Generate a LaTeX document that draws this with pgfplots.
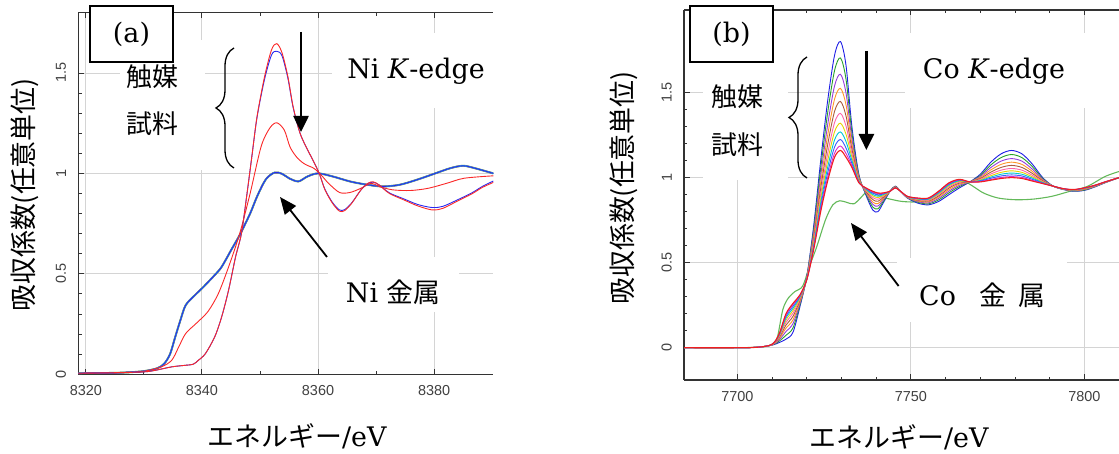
\documentclass[border=0pt]{standalone}
\usepackage{fontspec}
\usepackage{pgfplots}
\pgfplotsset{compat=1.18}
\usepackage{pgfplotstable}
\usetikzlibrary{arrows.meta,decorations.pathreplacing}
\newfontfamily\jp{Noto Sans CJK JP}
\newfontfamily\ser{DejaVu Serif}
\newfontfamily\tickf{Liberation Sans}

\definecolor{cA}{RGB}{30,30,230}
\definecolor{cB}{RGB}{40,160,40}
\definecolor{cC}{RGB}{150,60,220}
\definecolor{cD}{RGB}{255,150,40}
\definecolor{cE}{RGB}{170,90,60}
\definecolor{cF}{RGB}{255,100,170}
\definecolor{cG}{RGB}{230,210,0}
\definecolor{cH}{RGB}{0,200,210}
\definecolor{cI}{RGB}{60,90,255}
\definecolor{cJ}{RGB}{220,40,200}
\definecolor{cK}{RGB}{240,30,30}
\definecolor{cometal}{RGB}{100,185,90}
\definecolor{nired}{RGB}{250,40,40}
\definecolor{niblue}{RGB}{40,40,240}

% Ni K-edge: Ni metal
\pgfplotstableread{
x y
8318.7 0.005
8322 0.006
8326 0.008
8329.8 0.015
8332.3 0.030
8333.5 0.053
8334.5 0.100
8335.4 0.186
8336.3 0.270
8337.2 0.344
8338.8 0.394
8340.3 0.436
8342.2 0.494
8343.4 0.535
8345.2 0.627
8346.5 0.693
8348.3 0.800
8349.5 0.885
8351 0.970
8352.5 1.004
8353.8 0.998
8355 0.976
8356.6 0.960
8358.2 0.985
8360 1.000
8362.5 0.985
8365.5 0.960
8368 0.946
8371 0.935
8374 0.943
8377 0.968
8380 0.998
8382.8 1.026
8385 1.038
8387 1.026
8390.2 1.000
}\nimetal

% Ni catalyst, highest white line (red)
\pgfplotstableread{
x y
8318.7 0.005
8325 0.008
8330 0.012
8332 0.020
8334.8 0.037
8337.2 0.045
8338.5 0.050
8339.4 0.070
8340.6 0.103
8342.2 0.186
8343.4 0.286
8344.6 0.420
8345.8 0.585
8346.8 0.700
8347.7 0.885
8348.6 1.084
8349.5 1.284
8350.8 1.483
8352 1.616
8352.9 1.646
8353.8 1.600
8354.8 1.483
8355.7 1.334
8356.9 1.200
8358.2 1.118
8359.4 1.050
8360.3 0.993
8361.2 0.918
8362.5 0.851
8363.7 0.812
8364.6 0.815
8365.8 0.851
8367.4 0.918
8368.6 0.951
8369.5 0.958
8370.5 0.943
8372.3 0.900
8374.8 0.868
8377.2 0.838
8379.7 0.818
8381.5 0.826
8384 0.862
8386.5 0.898
8388.3 0.930
8390.2 0.955
}\nicatA

% Ni catalyst (blue)
\pgfplotstableread{
x y
8318.7 0.005
8325 0.008
8330 0.012
8332 0.020
8334.8 0.037
8337.2 0.045
8338.5 0.050
8339.4 0.070
8340.6 0.103
8342.2 0.186
8343.4 0.286
8344.6 0.420
8345.8 0.585
8346.8 0.700
8347.7 0.885
8348.6 1.084
8349.5 1.280
8350.8 1.470
8352 1.590
8352.9 1.608
8353.8 1.585
8354.8 1.475
8355.7 1.330
8356.9 1.200
8358.2 1.118
8359.4 1.050
8360.3 0.993
8361.2 0.920
8362.5 0.855
8363.7 0.818
8364.6 0.820
8365.8 0.853
8367.4 0.918
8368.6 0.950
8369.5 0.956
8370.5 0.943
8372.3 0.903
8374.8 0.873
8377.2 0.845
8379.7 0.830
8381.5 0.836
8384 0.868
8386.5 0.903
8388.3 0.935
8390.2 0.962
}\nicatB

% Ni catalyst, intermediate (red)
\pgfplotstableread{
x y
8318.7 0.005
8326 0.008
8330 0.015
8333 0.037
8334.8 0.070
8336 0.136
8337.2 0.203
8339 0.253
8341 0.311
8342.8 0.400
8344.6 0.535
8346.5 0.700
8348.3 0.900
8350.2 1.134
8351.7 1.226
8352.9 1.252
8354.2 1.215
8355.2 1.130
8356.5 1.075
8357.8 1.045
8359.3 1.025
8360.6 0.990
8361.8 0.951
8363.7 0.905
8365.5 0.905
8367.4 0.926
8369.2 0.951
8370.5 0.935
8372.9 0.918
8376 0.915
8379 0.926
8382.2 0.951
8385.2 0.976
8390.2 0.988
}\nicatC

% Co K-edge: catalyst series (a = largest white line ... k = smallest)
\pgfplotstableread{
x a b c d e f g h i j k
7684 0 0 0 0 0 0 0 0 0 0 0
7700 0 0 0 0 0 0 0 0 0 0 0
7706 0.003 0.003 0.003 0.003 0.003 0.003 0.003 0.003 0.003 0.003 0.003
7710 0.015 0.016 0.017 0.017 0.018 0.018 0.019 0.019 0.020 0.020 0.020
7712 0.030 0.038 0.045 0.052 0.058 0.063 0.068 0.072 0.075 0.078 0.080
7714 0.050 0.073 0.095 0.115 0.133 0.149 0.163 0.175 0.185 0.194 0.200
7716 0.090 0.116 0.141 0.163 0.184 0.202 0.218 0.231 0.243 0.253 0.260
7718 0.240 0.251 0.261 0.270 0.279 0.286 0.293 0.298 0.303 0.307 0.310
7720 0.420 0.417 0.414 0.411 0.409 0.407 0.405 0.403 0.402 0.401 0.400
7722 0.720 0.699 0.678 0.660 0.643 0.628 0.615 0.604 0.594 0.586 0.580
7724 1.100 1.055 1.010 0.971 0.935 0.902 0.875 0.851 0.830 0.812 0.800
7726 1.450 1.380 1.309 1.248 1.192 1.140 1.098 1.060 1.027 0.999 0.980
7728 1.720 1.630 1.540 1.462 1.390 1.324 1.270 1.222 1.180 1.144 1.120
7729.7 1.800 1.704 1.608 1.525 1.448 1.378 1.320 1.269 1.224 1.186 1.160
7731.3 1.660 1.579 1.498 1.428 1.363 1.304 1.255 1.212 1.174 1.142 1.120
7733 1.300 1.264 1.228 1.197 1.168 1.142 1.120 1.101 1.084 1.070 1.060
7735 1.020 1.013 1.005 0.999 0.993 0.987 0.983 0.979 0.975 0.972 0.970
7737 0.900 0.906 0.912 0.917 0.922 0.926 0.930 0.933 0.936 0.938 0.940
7739 0.810 0.827 0.843 0.857 0.871 0.883 0.893 0.901 0.909 0.916 0.920
7740.5 0.800 0.817 0.833 0.847 0.861 0.873 0.883 0.891 0.899 0.906 0.910
7742 0.850 0.859 0.868 0.876 0.883 0.890 0.895 0.900 0.904 0.908 0.910
7744 0.920 0.920 0.920 0.920 0.920 0.920 0.920 0.920 0.920 0.920 0.920
7745.5 0.950 0.949 0.947 0.946 0.945 0.943 0.943 0.942 0.941 0.940 0.940
7747 0.920 0.920 0.920 0.920 0.920 0.920 0.920 0.920 0.920 0.920 0.920
7749 0.880 0.882 0.883 0.884 0.886 0.887 0.888 0.888 0.889 0.890 0.890
7752 0.850 0.855 0.859 0.863 0.867 0.870 0.873 0.875 0.877 0.879 0.880
7755 0.840 0.846 0.852 0.857 0.862 0.866 0.870 0.873 0.876 0.878 0.880
7758 0.860 0.869 0.878 0.886 0.893 0.900 0.905 0.910 0.914 0.918 0.920
7761 0.900 0.911 0.921 0.930 0.939 0.946 0.953 0.958 0.963 0.967 0.970
7764 0.940 0.948 0.955 0.962 0.968 0.973 0.978 0.982 0.985 0.988 0.990
7767 0.975 0.975 0.975 0.975 0.975 0.975 0.975 0.975 0.975 0.975 0.975
7770 1.020 1.013 1.007 1.001 0.995 0.990 0.986 0.983 0.980 0.977 0.975
7773 1.090 1.074 1.059 1.045 1.032 1.021 1.011 1.003 0.996 0.989 0.985
7776 1.140 1.118 1.097 1.078 1.060 1.044 1.031 1.020 1.010 1.001 0.995
7779 1.160 1.136 1.112 1.091 1.072 1.054 1.040 1.027 1.016 1.006 1.000
7782 1.140 1.118 1.097 1.078 1.060 1.044 1.031 1.020 1.010 1.001 0.995
7785 1.080 1.065 1.050 1.037 1.025 1.014 1.005 0.997 0.990 0.984 0.980
7788 1.000 0.995 0.990 0.985 0.981 0.977 0.974 0.971 0.969 0.966 0.965
7791 0.950 0.950 0.950 0.950 0.950 0.950 0.950 0.950 0.950 0.950 0.950
7794 0.930 0.931 0.932 0.932 0.933 0.933 0.934 0.934 0.935 0.935 0.935
7797 0.920 0.922 0.923 0.924 0.926 0.927 0.928 0.928 0.929 0.930 0.930
7800 0.925 0.927 0.930 0.931 0.933 0.935 0.936 0.937 0.939 0.939 0.940
7803 0.945 0.947 0.948 0.949 0.951 0.952 0.953 0.953 0.954 0.955 0.955
7806 0.970 0.971 0.972 0.972 0.973 0.973 0.974 0.974 0.975 0.975 0.975
7810 1.000 1.000 1.000 1.000 1.000 1.000 1.000 1.000 1.000 1.000 1.000
}\cocat

% Co metal
\pgfplotstableread{
x y
7684.6 0.000
7700 0.000
7706 0.003
7709 0.010
7710.5 0.030
7711.6 0.068
7713.1 0.225
7714.7 0.293
7716.7 0.332
7718.8 0.362
7720.8 0.480
7722.9 0.596
7725.4 0.753
7727.5 0.840
7729.5 0.864
7731.6 0.854
7733.6 0.846
7735.7 0.885
7737.2 0.915
7739.3 0.910
7741.3 0.888
7744.4 0.872
7747.5 0.860
7751.6 0.858
7755.7 0.880
7759.8 0.948
7762.9 0.981
7765.4 0.978
7768 0.948
7771 0.909
7775.2 0.880
7780.3 0.870
7785.4 0.874
7790.6 0.890
7795.7 0.919
7800.8 0.948
7806 1.007
7810 1.036
}\cometal

\pgfplotsset{
  xanes/.style={
    scale only axis,
    anchor=south west,
    axis x line*=box,
    axis y line*=left,
    ytick pos=left,
    tick align=inside,
    major tick length=5.5bp,
    minor tick length=3.3bp,
    grid=major,
    major grid style={draw=black!17, line width=0.9bp},
    axis line style={-, draw=black!80, line width=1.1bp},
    every tick/.style={draw=black!80, line width=0.9bp},
    tick label style={font=\tickf\fontsize{14.5}{16}\selectfont, text=black!75},
    yticklabel style={rotate=90, anchor=south, inner sep=0pt, yshift=12bp},
    xticklabel style={anchor=north, inner sep=0pt, yshift=-11bp},
    minor y tick num=4,
    ytick={0,0.5,1,1.5},
    yticklabels={0,0.5,1,1.5},
    every axis plot/.append style={smooth, tension=0.5, line width=0.9bp},
  }
}

\begin{document}
\begin{tikzpicture}[x=1bp,y=1bp]
\useasboundingbox (0,0) rectangle (1119,454);

% ---------------- (a) Ni K-edge ----------------
\begin{axis}[xanes, at={(78.3bp,79.7bp)}, width=415bp, height=361.6bp,
  xmin=8318.7, xmax=8390.2, ymin=0, ymax=1.8,
  xtick={8320,8340,8360,8380}, xticklabels={8320,8340,8360,8380},
  minor x tick num=1]
\fill[white] (axis cs:8325.9,1.016) rectangle (axis cs:8340.5,1.663);
\fill[white] (axis cs:8362.4,1.325) rectangle (axis cs:8391,1.701);
\fill[white] (axis cs:8361.7,0.310) rectangle (axis cs:8384.3,0.583);
\addplot[draw=cB, line width=1.9bp] table[x=x,y=y] {\nimetal};
\addplot[draw=cJ, line width=1.5bp] table[x=x,y=y] {\nimetal};
\addplot[draw=cH, line width=1.2bp] table[x=x,y=y] {\nimetal};
\addplot[draw=niblue, line width=0.8bp] table[x=x,y=y] {\nimetal};
\addplot[draw=nired] table[x=x,y=y] {\nicatC};
\addplot[draw=niblue] table[x=x,y=y] {\nicatB};
\addplot[draw=nired] table[x=x,y=y] {\nicatA};
\end{axis}

% ---------------- (b) Co K-edge ----------------
\begin{axis}[xanes, at={(684bp,74bp)}, width=435bp, height=370bp,
  xmin=7684.6, xmax=7810, ymin=-0.19, ymax=1.986,
  xtick={7700,7750,7800}, xticklabels={7700,7750,7800},
  minor x tick num=4]
\fill[white] (axis cs:7690.1,0.986) rectangle (axis cs:7714.6,1.681);
\fill[white] (axis cs:7748.3,1.41) rectangle (axis cs:7811,1.85);
\fill[white] (axis cs:7746,0.151) rectangle (axis cs:7795,0.528);
\addplot[draw=cometal, line width=1.1bp] table[x=x,y=y] {\cometal};
\addplot[draw=cA] table[x=x,y=a] {\cocat};
\addplot[draw=cB] table[x=x,y=b] {\cocat};
\addplot[draw=cC] table[x=x,y=c] {\cocat};
\addplot[draw=cD] table[x=x,y=d] {\cocat};
\addplot[draw=cE] table[x=x,y=e] {\cocat};
\addplot[draw=cF] table[x=x,y=f] {\cocat};
\addplot[draw=cG] table[x=x,y=g] {\cocat};
\addplot[draw=cH] table[x=x,y=h] {\cocat};
\addplot[draw=cI] table[x=x,y=i] {\cocat};
\addplot[draw=cJ] table[x=x,y=j] {\cocat};
\addplot[draw=cK, line width=1.1bp] table[x=x,y=k] {\cocat};
\end{axis}

% ---------------- annotations (a) ----------------
\draw[line width=2bp, fill=white] (90,392) rectangle (173,448);
\node[font=\ser\fontsize{27}{30}\selectfont] at (131.5,420) {(a)};
\node[font=\jp\fontsize{26}{29}\selectfont] at (152,377) {触媒};
\node[font=\jp\fontsize{26}{29}\selectfont] at (152,330) {試料};
\draw[line width=1.3bp, decorate, decoration={brace, amplitude=18bp, aspect=0.5}] (234,286) -- (234,406);
\draw[line width=2.6bp, -{Triangle[width=15bp,length=16bp]}] (301,422) -- (301,322);
\node[font=\ser\fontsize{27}{30}\selectfont] at (416,383) {Ni \textit{K}-edge};
\draw[line width=1.8bp, -{Triangle[width=14bp,length=17bp]}] (327,197) -- (280,257);
\node[font=\fontsize{27}{30}\selectfont] at (393,162) {{\ser Ni} {\jp 金属}};

% ---------------- annotations (b) ----------------
\draw[line width=2bp, fill=white] (690,392) rectangle (773,448);
\node[font=\ser\fontsize{27}{30}\selectfont] at (731.5,420) {(b)};
\node[font=\jp\fontsize{26}{29}\selectfont] at (737.5,357) {触媒};
\node[font=\jp\fontsize{26}{29}\selectfont] at (737.5,309) {試料};
\draw[line width=1.3bp, decorate, decoration={brace, amplitude=18bp, aspect=0.5}] (807,276) -- (807,397);
\draw[line width=2.6bp, -{Triangle[width=15bp,length=16bp]}] (866.4,403) -- (866.4,304);
\node[font=\ser\fontsize{27}{30}\selectfont] at (994,383) {Co \textit{K}-edge};
\draw[line width=1.8bp, -{Triangle[width=14bp,length=17bp]}] (898.6,168) -- (851,231);
\node[font=\fontsize{27}{30}\selectfont] at (982.5,159) {{\ser Co}\hspace{24bp}{\jp 金}\hspace{12bp}{\jp 属}};

% ---------------- axis titles ----------------
\node[rotate=90, font=\jp\fontsize{27}{30}\selectfont] at (25,259) {吸収係数(任意単位)};
\node[rotate=90, font=\jp\fontsize{27}{30}\selectfont] at (624,266) {吸収係数(任意単位)};
\node[font=\fontsize{27}{30}\selectfont] at (297,18) {{\jp エネルギー}{\ser /eV}};
\node[font=\fontsize{27}{30}\selectfont] at (899,17) {{\jp エネルギー}{\ser /eV}};
\end{tikzpicture}
\end{document}
